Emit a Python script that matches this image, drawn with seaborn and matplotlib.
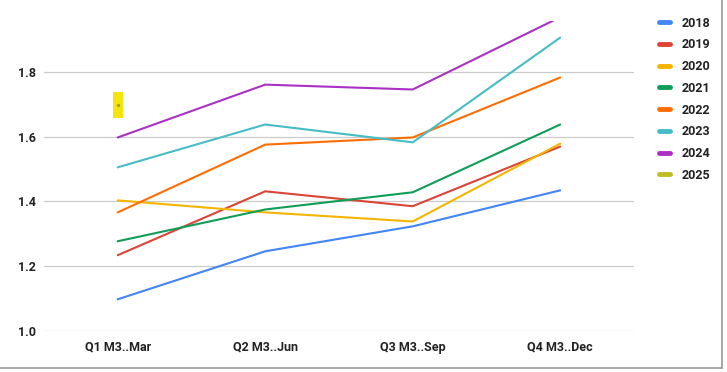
import seaborn as sns
import pandas as pd
import matplotlib.pyplot as plt
from matplotlib.lines import Line2D

# Quarterly values per year
quarters = ['Q1 M3..Mar', 'Q2 M3..Jun', 'Q3 M3..Sep', 'Q4 M3..Dec']
years = ['2018', '2019', '2020', '2021', '2022', '2023', '2024', '2025']
v2018 = [1.098, 1.246, 1.323, 1.434]
v2019 = [1.234, 1.431, 1.385, 1.569]
v2020 = [1.403, 1.366, 1.338, 1.578]
v2021 = [1.277, 1.375, 1.428, 1.637]
v2022 = [1.366, 1.575, 1.597, 1.782]
v2023 = [1.505, 1.637, 1.582, 1.905]
v2024 = [1.597, 1.760, 1.745, 1.968]
v2025 = [1.698]
colors = ['#4285f4', '#db4437', '#f4b400', '#0f9d58', '#ff6d01',
          '#46bdc6', '#ab30c4', '#bcbd22']

series = [v2018, v2019, v2020, v2021, v2022, v2023, v2024, v2025]
rows = []
for y, vals in zip(years, series):
    for q, v in zip(quarters, vals):
        rows.append({'Quarter': q, 'Value': v, 'Year': y})
df = pd.DataFrame(rows)
palette = dict(zip(years, colors))

sns.set_theme(style='white')
plt.rcParams['font.family'] = ['Roboto', 'DejaVu Sans']

fig = plt.figure(figsize=(7.27, 3.72), dpi=100)
ax = fig.add_axes([0.0605, 0.110, 0.8115, 0.8325])

sns.lineplot(data=df, x='Quarter', y='Value', hue='Year', palette=palette,
             linewidth=1.5, ax=ax, sort=False)

# highlighted single point for 2025
one = df[df['Year'] == '2025']
box = [(-0.2, -0.5), (0.2, -0.5), (0.2, 0.5), (-0.2, 0.5), (-0.2, -0.5)]
ax.scatter(one['Quarter'], one['Value'], marker=box, s=330, color='#f5e50a',
           linewidths=0, zorder=5)
sns.scatterplot(data=one, x='Quarter', y='Value', color='#b0a020', s=6,
                linewidth=0, ax=ax, zorder=6, legend=False)

ax.set_xlim(-0.5, 3.5)
ax.set_ylim(1.0, 1.955)
ax.set_yticks([1.0, 1.2, 1.4, 1.6, 1.8])
ax.set_yticklabels(['1.0', '1.2', '1.4', '1.6', '1.8'])
ax.grid(axis='y', color='#cccccc', linewidth=0.9)
ax.set_axisbelow(True)
for s in ax.spines.values():
    s.set_visible(False)
ax.tick_params(axis='both', length=0, labelsize=9, colors='#222222')
ax.tick_params(axis='x', pad=7)
ax.tick_params(axis='y', pad=6)
for lbl in ax.get_xticklabels() + ax.get_yticklabels():
    lbl.set_fontweight('semibold')
ax.set_xlabel('')
ax.set_ylabel('')

handles = [Line2D([0], [0], color=c, linewidth=3.5) for c in colors]
leg = ax.legend(handles, years, loc='upper left', bbox_to_anchor=(1.03, 1.04),
                frameon=False, handlelength=0.9, handletextpad=0.9,
                labelspacing=0.7, fontsize=9, borderaxespad=0.2)
for t in leg.get_texts():
    t.set_color('#222222')
    t.set_fontweight('semibold')

# card border at right and bottom
fig.add_artist(Line2D([0.993, 0.993], [0.011, 1.0], color='#999999', linewidth=1.2))
fig.add_artist(Line2D([0.0, 0.993], [0.011, 0.011], color='#999999', linewidth=1.2))

fig.savefig('out.png', dpi=100)
